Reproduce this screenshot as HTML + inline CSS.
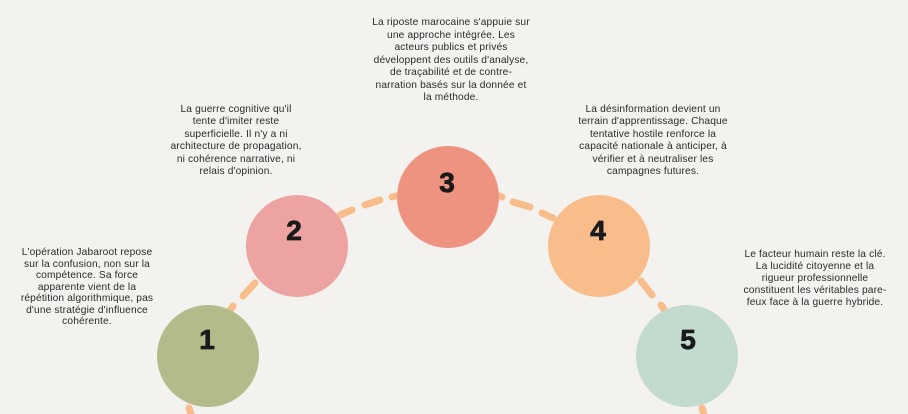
<!DOCTYPE html>
<html><head><meta charset="utf-8"><style>
body{margin:0;width:908px;height:414px;background:#f3f2ee;overflow:hidden;position:relative;font-family:"Liberation Sans",sans-serif;}
.t{position:absolute;transform:translateX(-50%);text-align:center;white-space:nowrap;font-size:10.2px;letter-spacing:0.15px;color:#2a2a2a;}
svg{position:absolute;left:0;top:0}
</style></head><body>
<svg width="908" height="414">
<g stroke="#f9bd8b" stroke-width="7" stroke-linecap="round" fill="none">
<line x1="228" y1="313" x2="233" y2="306"/>
<line x1="243" y1="296" x2="255" y2="283"/>
<line x1="340" y1="215" x2="352" y2="210"/>
<line x1="365" y1="205" x2="380" y2="200"/>
<line x1="392" y1="197" x2="396" y2="196"/>
<line x1="500" y1="196" x2="502" y2="197"/>
<line x1="513" y1="202" x2="530" y2="207"/>
<line x1="542" y1="213" x2="553" y2="218"/>
<line x1="641" y1="281" x2="652" y2="295"/>
<line x1="661" y1="305" x2="665" y2="311"/>
<line x1="189" y1="408" x2="191" y2="414"/>
<line x1="702" y1="408" x2="704" y2="414"/>
</g>
<circle cx="208" cy="356" r="51" fill="#b2bb89"/>
<circle cx="297" cy="246" r="51" fill="#eca3a1"/>
<circle cx="448" cy="197" r="51" fill="#ee9380"/>
<circle cx="599" cy="246" r="51" fill="#f9bd8b"/>
<circle cx="687" cy="356" r="51" fill="#c3dace"/>
<g font-family="Liberation Sans, sans-serif" font-weight="900" font-size="28" fill="#1a1a1a" text-anchor="middle" stroke="#1a1a1a" stroke-width="0.8">
<text x="207" y="349">1</text>
<text x="294" y="240">2</text>
<text x="447" y="192">3</text>
<text x="598" y="240">4</text>
<text x="688" y="349">5</text>
</g>
</svg>
<div class="t" style="left:451px;top:17px;line-height:12.5px">La riposte marocaine s'appuie sur<br>une approche intégrée. Les<br>acteurs publics et privés<br>développent des outils d'analyse,<br>de traçabilité et de contre-<br>narration basés sur la donnée et<br>la méthode.</div>
<div class="t" style="left:236px;top:104px;line-height:12.4px">La guerre cognitive qu'il<br>tente d'imiter reste<br>superficielle. Il n'y a ni<br>architecture de propagation,<br>ni cohérence narrative, ni<br>relais d'opinion.</div>
<div class="t" style="left:653px;top:104px;line-height:12.4px">La désinformation devient un<br>terrain d'apprentissage. Chaque<br>tentative hostile renforce la<br>capacité nationale à anticiper, à<br>vérifier et à neutraliser les<br>campagnes futures.</div>
<div class="t" style="left:87px;top:247px;line-height:11.5px">L'opération Jabaroot repose<br>sur la confusion, non sur la<br>compétence. Sa force<br>apparente vient de la<br>répétition algorithmique, pas<br>d'une stratégie d'influence<br>cohérente.</div>
<div class="t" style="left:815px;top:249px;line-height:12px">Le facteur humain reste la clé.<br>La lucidité citoyenne et la<br>rigueur professionnelle<br>constituent les véritables pare-<br>feux face à la guerre hybride.</div>
</body></html>
